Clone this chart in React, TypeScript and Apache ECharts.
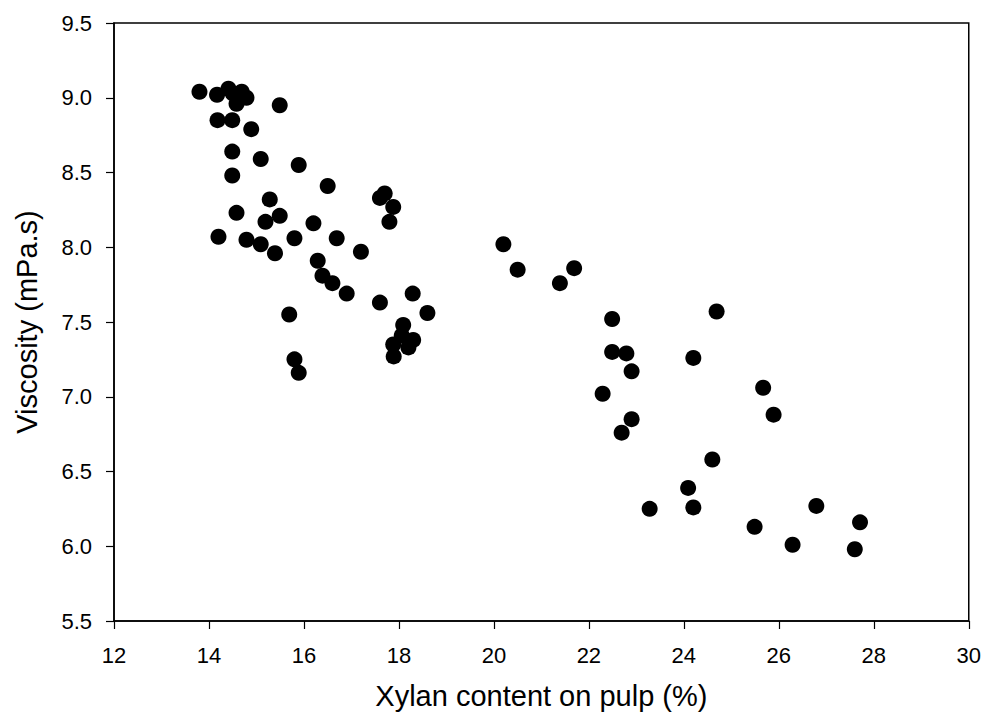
import React, { useEffect, useRef } from "react";
import * as echarts from "echarts";

const xylan: number[] = [
  13.8, 14.17, 14.41, 14.5, 14.69, 14.79, 14.58, 15.49, 14.18, 14.49,
  14.89, 14.49, 15.09, 15.89, 14.49, 16.5, 17.6, 17.7, 17.88, 15.28,
  14.58, 15.49, 15.19, 17.8, 16.2, 14.2, 14.79, 15.09, 15.8, 16.69,
  15.39, 17.2, 16.29, 16.39, 16.6, 16.9, 17.6, 18.29, 18.6, 15.69,
  18.09, 18.06, 18.3, 17.88, 18.2, 17.89, 15.8, 15.89, 20.2, 20.5,
  21.69, 21.39, 22.49, 24.69, 22.49, 22.79, 22.9, 24.2, 22.29, 22.9,
  22.69, 25.67, 24.6, 24.09, 25.89, 24.2, 23.28, 26.79, 27.71, 25.49,
  26.29, 27.6,
];
const viscosity: number[] = [
  9.04, 9.02, 9.06, 9.03, 9.04, 9.0, 8.96, 8.95, 8.85, 8.85,
  8.79, 8.64, 8.59, 8.55, 8.48, 8.41, 8.33, 8.36, 8.27, 8.32,
  8.23, 8.21, 8.17, 8.17, 8.16, 8.07, 8.05, 8.02, 8.06, 8.06,
  7.96, 7.97, 7.91, 7.81, 7.76, 7.69, 7.63, 7.69, 7.56, 7.55,
  7.48, 7.41, 7.38, 7.35, 7.33, 7.27, 7.25, 7.16, 8.02, 7.85,
  7.86, 7.76, 7.52, 7.57, 7.30, 7.29, 7.17, 7.26, 7.02, 6.85,
  6.76, 7.06, 6.58, 6.39, 6.88, 6.26, 6.25, 6.27, 6.16, 6.13,
  6.01, 5.98,
];

const xTitle = "Xylan content on pulp (%)";
const yTitle = "Viscosity (mPa.s)";

export default function App() {
  const ref = useRef<HTMLDivElement>(null);
  useEffect(() => {
    if (!ref.current) return;
    const chart = echarts.init(ref.current, undefined, { renderer: "svg" });
    const font = "'Liberation Sans', Arial, sans-serif";
    const axisCommon = {
      axisLine: { show: true, onZero: false, lineStyle: { color: "#000", width: 1.5 } },
      axisTick: { show: true, inside: false, length: 8, lineStyle: { color: "#000", width: 1.2 } },
      splitLine: { show: false },
      nameLocation: "middle" as const,
      nameTextStyle: { fontFamily: font, fontSize: 29, color: "#000" },
    };
    chart.setOption({
      animation: false,
      backgroundColor: "#fff",
      grid: { left: 114, right: 15, top: 23, bottom: 99, show: true, borderColor: "#000", borderWidth: 1.5 },
      xAxis: {
        type: "value",
        min: 12,
        max: 30,
        interval: 2,
        name: xTitle,
        nameGap: 60,
        ...axisCommon,
        axisLabel: { fontFamily: font, fontSize: 22, color: "#000", margin: 23 },
      },
      yAxis: {
        type: "value",
        min: 5.5,
        max: 9.5,
        interval: 0.5,
        name: yTitle,
        nameGap: 73,
        ...axisCommon,
        axisLabel: {
          fontFamily: font,
          fontSize: 22,
          color: "#000",
          margin: 22,
          formatter: (v: number) => v.toFixed(1),
        },
      },
      series: [
        {
          type: "scatter",
          symbol: "circle",
          symbolSize: 16,
          itemStyle: { color: "#000", opacity: 1 },
          data: xylan.map((x, i) => [x, viscosity[i]]),
        },
      ],
    });
    return () => chart.dispose();
  }, []);
  return <div ref={ref} style={{ width: 984, height: 720, position: "absolute", left: 0, top: 0 }} />;
}
